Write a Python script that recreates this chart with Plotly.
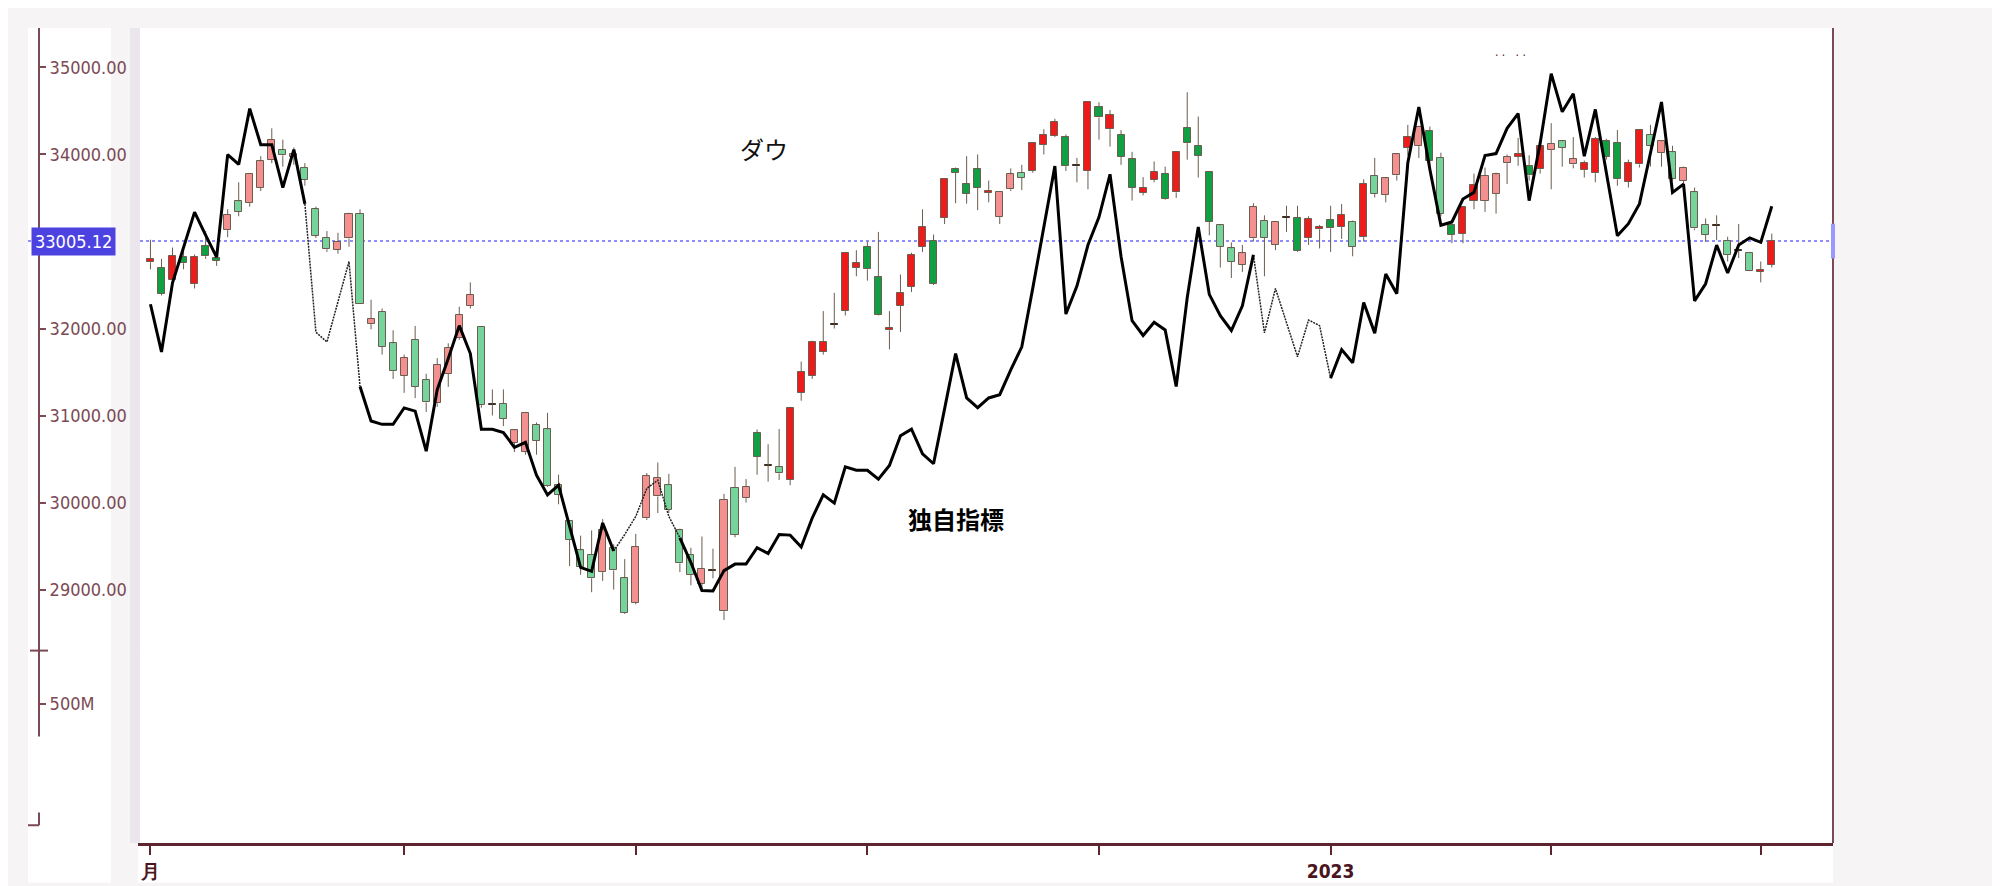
import pandas as pd
import plotly.graph_objects as go

# ---------------- data ----------------
holidays = ["2022-09-05", "2022-11-24", "2022-12-26", "2023-01-02", "2023-01-16", "2023-02-20"]
dates = [d for d in pd.bdate_range("2022-08-01", "2023-03-02") if d.strftime("%Y-%m-%d") not in holidays]

dow_open = [32760, 32700, 32560, 32820, 32510, 32950, 32810, 33130, 33460, 33440,
            33620, 33940, 34050, 33975, 33850, 33370, 33040, 32905, 33035, 33320,
            32050, 32190, 31830, 31460, 31870, 31410, 31140, 31480, 31890, 32260,
            32020, 31120, 31135, 30690, 30580, 30890, 30840, 30200, 29790, 29450,
            29400, 29200, 29480, 29130, 28850, 29820, 30070, 30200, 29680, 29400,
            29070, 29215, 28750, 30170, 30050, 30800, 30420, 30410, 30260, 31260,
            31460, 31735, 32045, 32200, 32700, 32940, 32590, 31980, 32260, 32480,
            32940, 33005, 33270, 33830, 33665, 33830, 33560, 33280, 33600, 33790,
            33810, 34110, 34215, 34205, 33865, 33810, 34545, 34290, 34225, 33945,
            33560, 33710, 33770, 33565, 34300, 34100, 33800, 33185, 32920, 32735,
            33035, 33240, 32960, 33270, 33270, 33040, 33140, 33245, 33165, 33225,
            33050, 33755, 33535, 33760, 34075, 34095, 34275, 33960, 33185, 33090,
            33470, 33470, 33545, 33900, 33970, 33865, 33830, 34050, 34150, 33885,
            33820, 33785, 34150, 34130, 33685, 33885, 34225, 34015, 34025, 33695,
            33565, 33195, 33180, 33005, 32890, 32865, 32655, 32730]
dow_high = [33020, 32800, 32930, 32920, 32850, 33120, 32870, 33370, 33680, 33770,
            33980, 34300, 34170, 34080, 33900, 33400, 33120, 33100, 33330, 33370,
            32330, 32230, 31980, 31700, 32030, 31480, 31660, 31830, 32250, 32530,
            32030, 31300, 31300, 30840, 31040, 30920, 31030, 30320, 29800, 29620,
            29680, 29810, 29520, 29350, 29640, 30340, 30460, 30330, 29700, 29480,
            29610, 29470, 30100, 30410, 30270, 30840, 30670, 30845, 31100, 31620,
            31860, 32200, 32410, 32880, 32900, 33000, 33110, 32200, 32620, 32870,
            33370, 33080, 33730, 33850, 33980, 34000, 33700, 33580, 33840, 33880,
            34140, 34290, 34410, 34230, 33960, 34610, 34600, 34510, 34280, 34030,
            33740, 33920, 33860, 34030, 34715, 34435, 33810, 33200, 32990, 32960,
            33440, 33300, 33230, 33410, 33410, 33290, 33190, 33410, 33430, 33240,
            33715, 33960, 33735, 34010, 34340, 34330, 34320, 34020, 33210, 33400,
            33780, 33850, 33790, 34000, 34190, 33990, 34110, 34360, 34160, 34200,
            33930, 34200, 34180, 34280, 33940, 34290, 34340, 34160, 34100, 33860,
            33620, 33265, 33300, 33055, 33200, 32880, 32770, 33090]
dow_low = [32680, 32380, 32500, 32680, 32460, 32800, 32720, 33050, 33290, 33400,
           33580, 33900, 33860, 33880, 33640, 33040, 32880, 32860, 32940, 32280,
           31990, 31700, 31420, 31260, 31200, 31040, 31100, 31330, 31870, 32230,
           31090, 31000, 30880, 30580, 30550, 30550, 30180, 29980, 29270, 29170,
           28970, 29100, 29000, 28720, 28830, 29800, 29880, 29880, 29200, 29050,
           29000, 29130, 28650, 29600, 30000, 30320, 30240, 30260, 30200, 31170,
           31420, 31700, 32000, 32150, 32600, 32550, 32150, 31760, 31960, 32420,
           32880, 32500, 33200, 33440, 33435, 33360, 33450, 33200, 33580, 33590,
           33790, 34000, 34200, 33810, 33680, 33600, 34170, 34090, 33880, 33470,
           33530, 33680, 33480, 33500, 33940, 33735, 33070, 32700, 32580, 32650,
           33000, 32600, 32900, 33110, 32880, 32960, 32920, 32880, 33030, 32830,
           33000, 33505, 33450, 33700, 33990, 33960, 33860, 33290, 32980, 32980,
           33370, 33340, 33320, 33660, 33870, 33700, 33780, 33600, 33860, 33840,
           33735, 33680, 33940, 33640, 33620, 33850, 33860, 33860, 33700, 33600,
           33130, 32995, 33015, 32770, 32810, 32660, 32530, 32700]
dow_close = [32800, 32400, 32830, 32750, 32820, 32830, 32780, 33310, 33340, 33770,
             33920, 34170, 33990, 34010, 33710, 33065, 32910, 32995, 33320, 32280,
             32110, 31790, 31510, 31660, 31330, 31150, 31580, 31780, 32160, 32390,
             31120, 31130, 30960, 30830, 31030, 30710, 30190, 30090, 29570, 29260,
             29130, 29690, 29220, 28730, 29490, 30310, 30280, 29920, 29300, 29170,
             29240, 29220, 30030, 29630, 30180, 30525, 30428, 30335, 31085, 31500,
             31840, 31840, 32055, 32870, 32750, 32680, 32160, 32010, 32410, 32840,
             33165, 32515, 33720, 33790, 33545, 33620, 33580, 33570, 33770, 33735,
             34130, 34225, 34375, 33865, 33880, 34600, 34425, 34450, 33970, 33620,
             33620, 33800, 33490, 34025, 34130, 33985, 33225, 32940, 32765, 32865,
             33395, 33045, 33225, 33285, 32890, 33255, 33165, 33150, 33300, 32940,
             33660, 33545, 33725, 34000, 34205, 34320, 33925, 33320, 33075, 33395,
             33650, 33755, 33770, 33970, 34010, 33760, 34100, 34125, 34075, 33950,
             33905, 34175, 33975, 33715, 33905, 34280, 34100, 34150, 33715, 33845,
             33150, 33075, 33190, 32850, 32905, 32665, 32675, 33005]

indicator = [32279, 31731, 32525, 32933, 33337, 33073, 32820, 33999, 33885, 34527,
             34112, 34112, 33620, 34055, 33432, 31958, 31845, 32317, 32770, 31334,
             30937, 30899, 30899, 31088, 31050, 30590, 31297, 31655, 32033, 31712,
             30843, 30843, 30805, 30635, 30692, 30314, 30087, 30200, 29728, 29255,
             29210, 29766, 29444, 29633, 29841, 30162, 30257, 29841, 29595, 29311,
             28990, 28985, 29218, 29293, 29293, 29482, 29414, 29633, 29626, 29490,
             29823, 30088, 29994, 30410, 30371, 30371, 30269, 30427, 30767, 30843,
             30560, 30446, 31077, 31712, 31202, 31090, 31202, 31240, 31524, 31789,
             32467, 33186, 33866, 32166, 32487, 32959, 33280, 33772, 32827, 32090,
             31920, 32071, 31984, 31334, 32355, 33167, 32392, 32147, 31977, 32260,
             32846, 31950, 32460, 32071, 31675, 32098, 32033, 31429, 31757, 31606,
             32298, 31947, 32627, 32400, 33904, 34546, 33828, 33186, 33224, 33488,
             33564, 33987, 34010, 34300, 34470, 33469, 34130, 34928, 34490, 34697,
             33980, 34517, 33791, 33065, 33205, 33432, 34017, 34603, 33564, 33659,
             32317, 32514, 32959, 32638, 32959, 33042, 32990, 33405]

current_price = 33005.12
price_ticks = [29000, 30000, 31000, 32000, 34000, 35000]
volume_ticks = [500e6]
volume_tick_labels = ["500M"]

# ---------------- styles (kept apart from data) ----------------
vivid = [1, 1, 1, 1, 1, 1, 1, 0, 0, 0, 0, 0, 0, 0, 0, 0, 0, 0, 0, 0,
         0, 0, 0, 0, 0, 0, 0, 0, 0, 0, 0, 1, 0, 0, 0, 0, 0, 0, 0, 0,
         0, 0, 0, 0, 0, 0, 0, 0, 0, 0, 0, 1, 0, 0, 0, 1, 1, 0, 1, 1,
         1, 1, 1, 1, 1, 1, 1, 1, 1, 1, 1, 1, 1, 1, 1, 1, 1, 0, 0, 0,
         1, 1, 1, 1, 0, 1, 1, 1, 1, 1, 1, 1, 1, 1, 1, 1, 1, 0, 0, 0,
         0, 0, 0, 1, 1, 1, 1, 1, 1, 0, 1, 0, 0, 0, 1, 0, 1, 0, 1, 1,
         1, 0, 0, 0, 1, 1, 1, 0, 0, 0, 1, 1, 1, 1, 1, 1, 0, 0, 0, 0,
         0, 0, 1, 0, 0, 0, 1, 1]
thin_segments = [(14, 19), (42, 48), (100, 107)]

UP_VIVID, UP_PALE = "#ee1b1b", "#f59090"
DN_VIVID, DN_PALE = "#10a043", "#74d49c"
DOJI = "#3b2c20"
OUTLINE = "#6b5d4f"
AXIS = "#7b4a54"

n = len(dates)
xs = list(range(n))

body_base, body_h, body_col, line_col = [], [], [], []
wx, wy = [], []
for i in xs:
    o, h, l, c = dow_open[i], dow_high[i], dow_low[i], dow_close[i]
    top, bot = max(o, c), min(o, c)
    body_base.append(bot)
    body_h.append(max(top - bot, 10))
    if abs(c - o) < 20:
        body_col.append(DOJI)
        line_col.append(DOJI)
    elif c > o:
        body_col.append(UP_VIVID if vivid[i] else UP_PALE)
        line_col.append(OUTLINE)
    else:
        body_col.append(DN_VIVID if vivid[i] else DN_PALE)
        line_col.append(OUTLINE)
    wx += [i, i, None, i, i, None]
    wy += [h, top, None, bot, l, None]

thick = list(indicator)
for a, b in thin_segments:
    for k in range(a + 1, b):
        thick[k] = None

# ---------------- figure geometry ----------------
W, H = 2000, 886
L, R, T, B = 20, 175, 20, 40
PW, PH = W - L - R, H - T - B


def px(X):
    return (X - L) / PW


def py(Y):
    return (H - B - Y) / PH


fig = go.Figure()

fig.add_trace(go.Scatter(x=wx, y=wy, mode="lines", line=dict(color=OUTLINE, width=1),
                         hoverinfo="skip", showlegend=False))
fig.add_trace(go.Bar(x=xs, y=body_h, base=body_base, width=0.64,
                     marker=dict(color=body_col, line=dict(color=line_col, width=1)),
                     showlegend=False))
for a, b in thin_segments:
    fig.add_trace(go.Scatter(x=xs[a:b + 1], y=indicator[a:b + 1], mode="lines",
                             line=dict(color="#222222", width=1.5, dash="2px,1px"),
                             showlegend=False, hoverinfo="skip"))
fig.add_trace(go.Scatter(x=xs, y=thick, mode="lines", connectgaps=False,
                         line=dict(color="#000000", width=3), showlegend=False))
fig.add_trace(go.Scatter(x=[None], y=[None], yaxis="y2", showlegend=False))

tickvals, ticktext = [], []
for i, d in enumerate(dates):
    if i == 0 or d.month != dates[i - 1].month:
        tickvals.append(i)
        if i == 0:
            ticktext.append("月")
        elif d.month == 1:
            ticktext.append(str(d.year))
        else:
            ticktext.append("")

narrow = "Liberation Sans Narrow, DejaVu Sans Condensed, Arial Narrow, sans-serif"

fig.update_layout(
    width=W, height=H,
    margin=dict(l=L, r=R, t=T, b=B),
    paper_bgcolor="#f6f4f5",
    plot_bgcolor="#ffffff",
    bargap=0,
    xaxis=dict(domain=[px(130), 1], range=[-1.13, 152.55], anchor="y2",
               tickvals=tickvals, ticktext=ticktext, ticks="outside", ticklen=9,
               tickwidth=2, tickcolor="#5e2430", showline=True, linecolor="#5e2430",
               linewidth=3, showgrid=False, zeroline=False,
               tickfont=dict(family=narrow, size=19, color="#4a1520", weight="bold")),
    yaxis=dict(domain=[py(651), 1], range=[28299, 35453], anchor="free",
               position=px(31), side="right", showline=True, linecolor=AXIS,
               linewidth=2, ticks="outside", ticklen=6, tickwidth=2, tickcolor=AXIS,
               tickvals=price_ticks, ticktext=[f"{v:.2f}" for v in price_ticks],
               tickfont=dict(family=narrow, size=18, color=AXIS),
               showgrid=False, zeroline=False),
    yaxis2=dict(domain=[0, py(651)], range=[0, 691e6], anchor="free",
                position=px(31), side="right", showline=False,
                ticks="outside", ticklen=6, tickwidth=2, tickcolor=AXIS,
                tickvals=volume_ticks, ticktext=volume_tick_labels,
                tickfont=dict(family=narrow, size=18, color=AXIS),
                showgrid=False, zeroline=False),
    shapes=[
        dict(type="rect", xref="paper", yref="paper", x0=px(20), x1=px(103),
             y0=py(886), y1=py(20), fillcolor="#ffffff", line=dict(width=0), layer="below"),
        dict(type="rect", xref="paper", yref="paper", x0=px(122), x1=px(132),
             y0=py(846), y1=py(20), fillcolor="#ebe6ee", line=dict(width=0), layer="below"),
        dict(type="rect", xref="paper", yref="paper", x0=px(130), x1=1,
             y0=py(886), y1=0, fillcolor="#ffffff", line=dict(width=0), layer="below"),
        dict(type="line", xref="paper", yref="y", x0=px(132), x1=1,
             y0=current_price, y1=current_price,
             line=dict(color="#8f8cff", width=2, dash="dot"), layer="below"),
        dict(type="line", xref="paper", yref="y", x0=px(20), x1=px(31),
             y0=current_price, y1=current_price,
             line=dict(color="#8f8cff", width=2, dash="dot"), layer="below"),
        dict(type="line", xref="paper", yref="paper", x0=1, x1=1, y0=0, y1=1,
             line=dict(color=AXIS, width=2)),
        dict(type="line", xref="paper", yref="paper", x0=px(31), x1=px(31),
             y0=py(651), y1=py(738), line=dict(color=AXIS, width=2)),
        dict(type="line", xref="paper", yref="paper", x0=px(22), x1=px(40),
             y0=py(651), y1=py(651), line=dict(color=AXIS, width=2)),
        dict(type="line", xref="paper", yref="paper", x0=px(20), x1=px(31),
             y0=py(828), y1=py(828), line=dict(color=AXIS, width=2)),
        dict(type="line", xref="paper", yref="paper", x0=px(31), x1=px(31),
             y0=py(828), y1=py(815), line=dict(color=AXIS, width=2)),
        dict(type="rect", xref="paper", yref="y", x0=px(1823), x1=px(1827),
             y0=current_price - 200, y1=current_price + 200,
             fillcolor="#9a98ff", line=dict(width=0)),
    ],
    annotations=[
        dict(x=px(65), y=current_price, xref="paper", yref="y", text=f"{current_price:.2f}",
             showarrow=False, xanchor="center", yanchor="middle", bgcolor="#4c42e0",
             borderpad=3, font=dict(family=narrow, size=18, color="#ffffff")),
        dict(x=px(756), y=py(142), xref="paper", yref="paper", text="ダウ", showarrow=False,
             xanchor="center", yanchor="middle",
             font=dict(family="Noto Sans CJK JP", size=24, color="#111111")),
        dict(x=px(948), y=py(517), xref="paper", yref="paper", text="独自指標", showarrow=False,
             xanchor="center", yanchor="middle",
             font=dict(family="Noto Sans CJK JP", size=24, color="#000000", weight="bold")),
        dict(x=px(1502), y=py(48), xref="paper", yref="paper", text="· ·   · ·", showarrow=False,
             xanchor="center", yanchor="middle",
             font=dict(family=narrow, size=12, color="#4a1520")),
    ],
)

fig.write_html("out.html")
